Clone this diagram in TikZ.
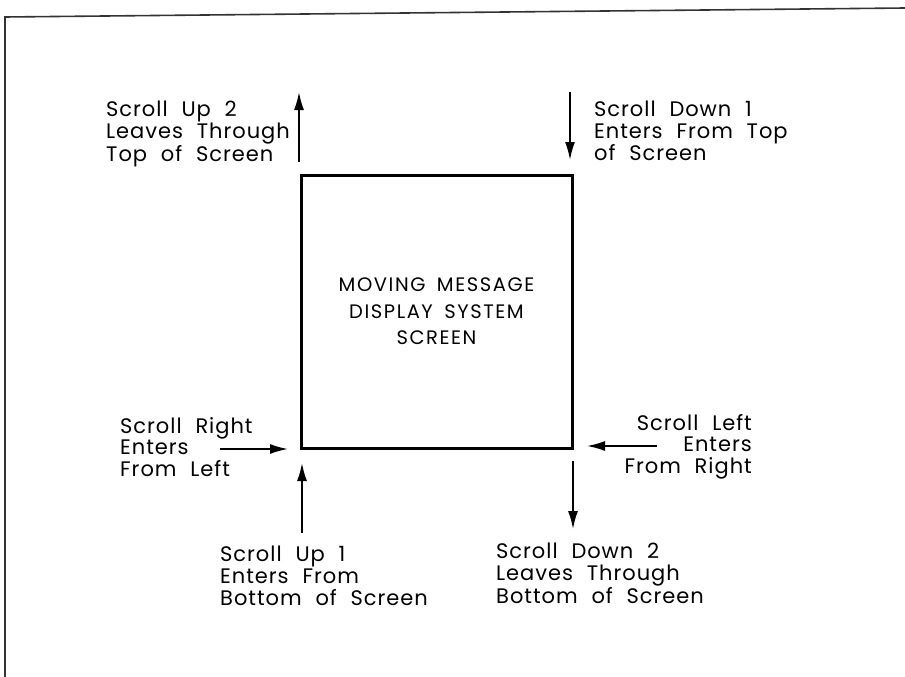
\documentclass[tikz,border=0pt]{standalone}
\usepackage{fontspec}
\setmainfont{Poppins}[LetterSpace=4.6,WordSpace=2.1]
\newfontfamily\ctrfont{Poppins}[LetterSpace=8,WordSpace=1.7]
\usetikzlibrary{arrows.meta}
\tikzset{
  lbl/.style={inner sep=0pt, font=\fontsize{21}{21.7}\selectfont, align=left},
  lblr/.style={inner sep=0pt, font=\fontsize{21}{21.7}\selectfont, align=right},
  arr/.style={line width=1.7pt, -{Latex[length=18pt,width=10pt]}},
  frame/.style={line width=1.6pt, draw=black!80},
}
\begin{document}
\begin{tikzpicture}[x=1pt,y=-1pt]
\useasboundingbox (0,0) rectangle (905,677);
\draw[frame] (5,677) -- (5,17) -- (905,8);
\node[draw, line width=3pt, minimum width=271pt, minimum height=273pt, inner sep=0pt,
  align=center, font=\ctrfont\fontsize{19.5}{26.5}\selectfont] (screen) at (436.5,311.5)
  {MOVING MESSAGE\\DISPLAY SYSTEM\\SCREEN};
% arrow end points
\coordinate (u2s) at (299,162); \coordinate (u2e) at (299,92);
\coordinate (d1s) at (570,92);  \coordinate (d1e) at (570,160);
\coordinate (rs) at (220,449);  \coordinate (re) at (288,449);
\coordinate (u1s) at (302,533); \coordinate (u1e) at (302,463);
\coordinate (ls) at (657,446);  \coordinate (le) at (587,446);
\coordinate (d2s) at (573,461); \coordinate (d2e) at (573,529);
\draw[arr] (u2s) -- (u2e);
\draw[arr] (d1s) -- (d1e);
\draw[arr] (rs) -- (re);
\draw[arr] (u1s) -- (u1e);
\draw[arr] (ls) -- (le);
\draw[arr] (d2s) -- (d2e);
% labels
\node[lbl, anchor=north west] (up2) at (106,101) {Scroll Up 2\\Leaves Through\\Top of Screen};
\node[lbl, anchor=north west] (down1) at (594,101) {Scroll Down 1\\Enters From Top\\of Screen};
\node[lbl, anchor=north west] (right) at (120,417) {Scroll Right\\Enters\\From Left};
\node[lblr, anchor=north east] (left) at (752,414) {Scroll Left\\Enters\\From Right};
\node[lbl, anchor=north west] (up1) at (220,546) {Scroll Up 1\\Enters From\\Bottom of Screen};
\node[lbl, anchor=north west] (down2) at (496,543) {Scroll Down 2\\Leaves Through\\Bottom of Screen};
\end{tikzpicture}
\end{document}
